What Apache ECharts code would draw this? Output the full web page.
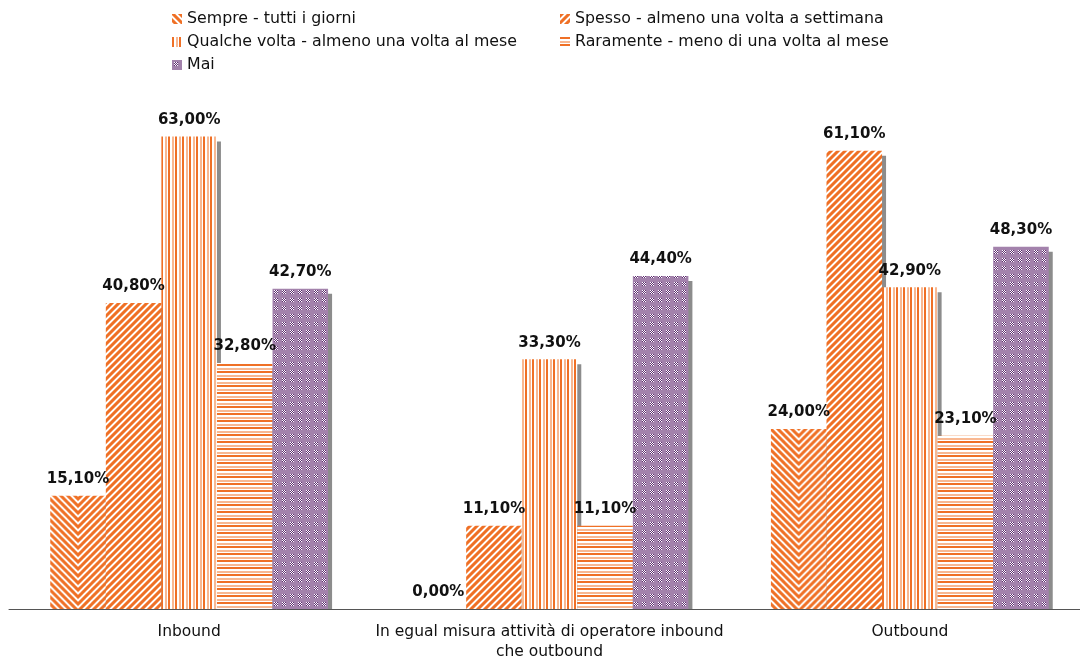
<!DOCTYPE html>
<html>
<head>
<meta charset="utf-8">
<script src="https://cdn.jsdelivr.net/npm/echarts@6/dist/echarts.min.js"></script>
<style>
  html, body { margin: 0; padding: 0; background: #fff; }
  #chart { width: 1080px; height: 658px; }
</style>
</head>
<body>
<div id="chart"></div>
<script>
// Categories and series values (percent)
const categories = ['Inbound', 'In egual misura attività di operatore inbound\nche outbound', 'Outbound'];
const seriesNames = [
  'Sempre - tutti i giorni',
  'Spesso - almeno una volta a settimana',
  'Qualche volta - almeno una volta al mese',
  'Raramente - meno di una volta al mese',
  'Mai'
];
const sempre    = [15.1, 0.0, 24.0];
const spesso    = [40.8, 11.1, 61.1];
const qualche   = [63.0, 33.3, 42.9];
const raramente = [32.8, 11.1, 23.1];
const mai       = [42.7, 44.4, 48.3];

const FONT = '"DejaVu Sans", Verdana, sans-serif';
const ORANGE = [239, 112, 38];
const ORANGE_MID = [246, 168, 120];
const ORANGE_LIGHT = [248, 184, 146];
const WHITE = [255, 255, 255];

// Build a small canvas tile from a per-pixel colour function
function makeTile(w, h, fn) {
  const c = document.createElement('canvas');
  c.width = w; c.height = h;
  const ctx = c.getContext('2d');
  const img = ctx.createImageData(w, h);
  for (let y = 0; y < h; y++) {
    for (let x = 0; x < w; x++) {
      const col = fn(x, y);
      const i = (y * w + x) * 4;
      img.data[i] = col[0]; img.data[i + 1] = col[1]; img.data[i + 2] = col[2]; img.data[i + 3] = 255;
    }
  }
  ctx.putImageData(img, 0, 0);
  return c;
}

const P = 7;
function stripeColor(v) {
  v = ((v % P) + P) % P;
  if (v < 3) return ORANGE;
  if (v === 3 || v === 6) return ORANGE_MID;
  return WHITE;
}

// Alternating dark / light orange lines with white gaps (period 7)
function lineColor(v) {
  if (v < 2) return ORANGE;
  if (v === 4 || v === 5) return ORANGE_LIGHT;
  return WHITE;
}

const diagDown = makeTile(P, P, (x, y) => stripeColor(x - y));
const diagUp = makeTile(P, P, (x, y) => stripeColor(x + y));
const vertTile = makeTile(7, 7, (x) => lineColor(x));
const horTile = makeTile(7, 7, (x, y) => lineColor(y));
const maiTile = makeTile(8, 8, (x, y) => {
  if (x >= 2 && x < 6 && y >= 2 && y < 6) {
    return ((x + y) % 2 === 0) ? [255, 255, 255] : [92, 44, 110];
  }
  return [163, 130, 172];
});

// Chevron tile: "\" on the left half, "/" on the right half, meeting at the bar centre
const CHW = 56;
const chevronTile = makeTile(CHW, P, (x, y) => stripeColor(y + Math.floor(Math.abs(x + 0.5 - CHW / 2))));

const pat = (img) => ({ image: img, repeat: 'repeat' });

const fmt = (p) => p.value.toFixed(2).replace('.', ',') + '%';

function makeSeries(id, name, values, tile) {
  return {
    id: id,
    name: name,
    type: 'bar',
    data: values,
    barGap: '0%',
    barCategoryGap: '22.9%',
    itemStyle: {
      color: pat(tile),
      shadowColor: '#8c8c8c',
      shadowOffsetX: 4,
      shadowOffsetY: 5,
      shadowBlur: 0
    },
    label: {
      show: true,
      position: 'top',
      distance: 9,
      formatter: fmt,
      fontFamily: FONT,
      fontSize: 15,
      fontWeight: 'bold',
      color: '#111'
    }
  };
}

const chart = echarts.init(document.getElementById('chart'), null, { renderer: 'canvas' });

const legendBase = {
  orient: 'vertical',
  top: 6,
  itemWidth: 10,
  itemHeight: 10,
  itemGap: 7,
  itemTextGap: 3,
  icon: 'rect',
  itemStyle: { shadowColor: 'transparent', shadowOffsetX: 0, shadowOffsetY: 0 },
  textStyle: { fontFamily: FONT, fontSize: 15.8, color: '#111', lineHeight: 16 },
  selectedMode: false
};

chart.setOption({
  animation: false,
  backgroundColor: '#fff',
  legend: [
    Object.assign({}, legendBase, { left: 167, data: [seriesNames[0], seriesNames[2], seriesNames[4]] }),
    Object.assign({}, legendBase, { left: 555, data: [seriesNames[1], seriesNames[3]] })
  ],
  grid: { left: 9, right: -10, top: 84, bottom: 49, outerBoundsMode: 'none', containLabel: false },
  xAxis: {
    type: 'category',
    data: categories,
    z: 10,
    axisLine: { lineStyle: { color: '#555', width: 1 } },
    axisTick: { length: 5, lineStyle: { color: '#555' } },
    axisLabel: {
      margin: 13,
      fontFamily: FONT,
      fontSize: 15.5,
      lineHeight: 20,
      color: '#111',
      interval: 0
    }
  },
  yAxis: { type: 'value', min: 0, max: 70, show: false },
  // strip below the baseline that hides the bar shadows' lower overhang
  graphic: [{
    type: 'rect',
    z: 5,
    shape: { x: 0, y: 610, width: 1080, height: 8 },
    style: { fill: '#fff' },
    silent: true
  }],
  series: [
    makeSeries('sempre', seriesNames[0], sempre, diagDown),
    makeSeries('spesso', seriesNames[1], spesso, diagUp),
    makeSeries('qualche', seriesNames[2], qualche, vertTile),
    makeSeries('raramente', seriesNames[3], raramente, horTile),
    makeSeries('mai', seriesNames[4], mai, maiTile)
  ]
});

// Second pass: align a chevron fill with each "Sempre" bar using the library's bar layout
const data0 = chart.getModel().getSeriesByIndex(0).getData();
const sempreItems = sempre.map((v, i) => {
  const l = data0.getItemLayout(i);
  const w = l ? Math.abs(l.width) : CHW;
  const x0 = l ? Math.min(l.x, l.x + l.width) : 0;
  return {
    value: v,
    itemStyle: {
      color: { image: chevronTile, repeat: 'repeat', x: x0, y: 0, scaleX: w / CHW, scaleY: 1 }
    }
  };
});
chart.setOption({ series: [{ id: 'sempre', data: sempreItems }] });
</script>
</body>
</html>
